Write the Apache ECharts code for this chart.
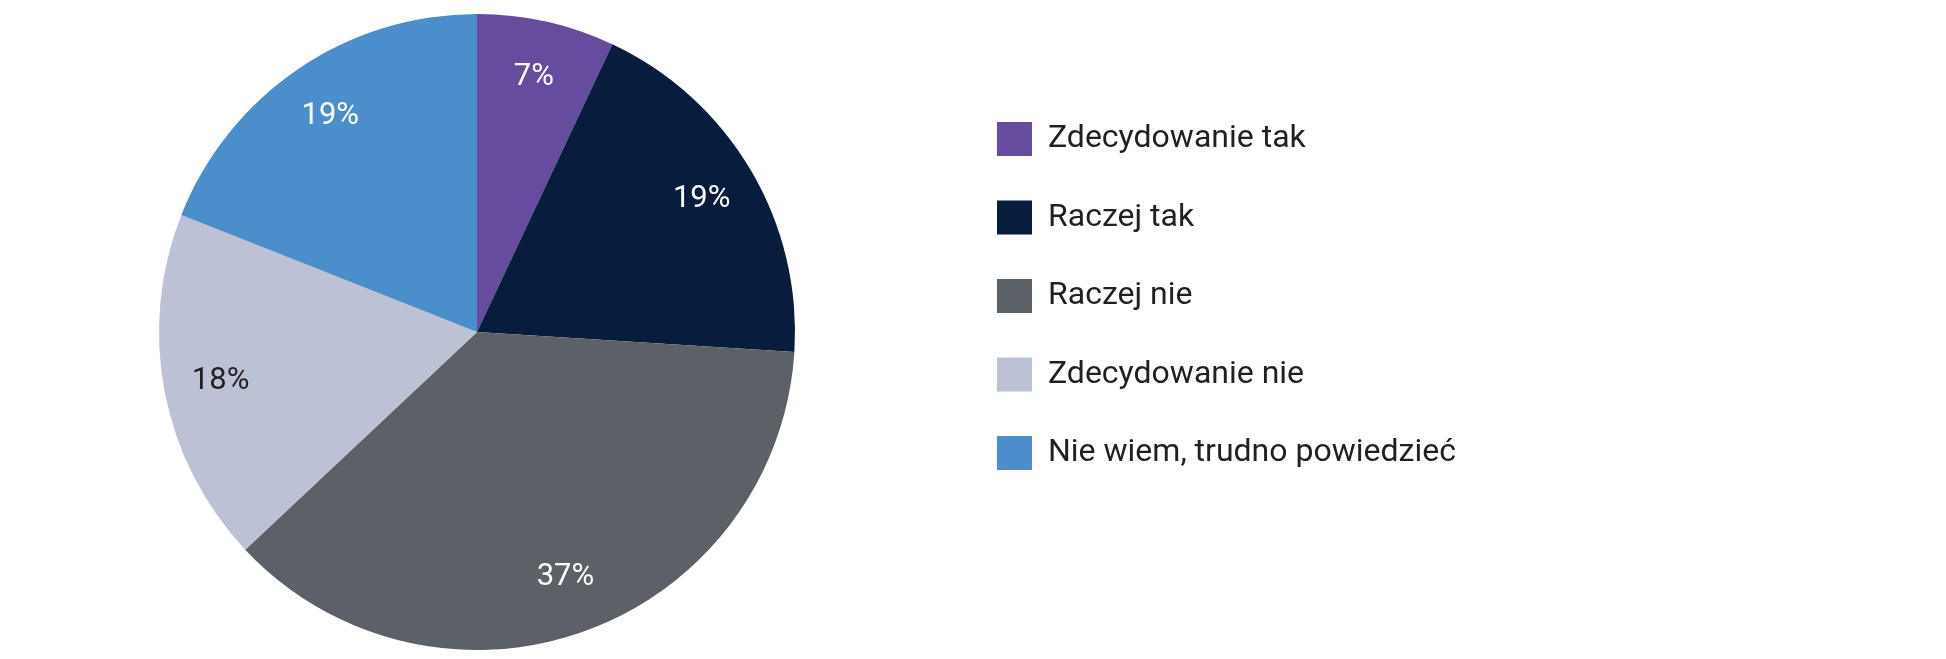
<!DOCTYPE html>
<html>
<head>
<meta charset="utf-8">
<script src="https://cdn.jsdelivr.net/npm/echarts@6/dist/echarts.min.js"></script>
<style>
html,body{margin:0;padding:0;background:#fff;}
#c{width:1946px;height:659px;}
</style>
</head>
<body>
<div id="c"></div>
<script>
const categories = ["Zdecydowanie tak", "Raczej tak", "Raczej nie", "Zdecydowanie nie", "Nie wiem, trudno powiedzieć"];
const values = [7, 19, 37, 18, 19];
const colors = ["#654c9e", "#081c3d", "#5c6168", "#bcc1d5", "#4a8fcb"];
const labelColors = ["#ffffff", "#ffffff", "#ffffff", "#231f20", "#ffffff"];

const chart = echarts.init(document.getElementById('c'), null, {renderer: 'canvas'});
const center = [477, 332];
const pieData = categories.map((n, i) => ({name: n, value: values[i], itemStyle: {color: colors[i]}}));
const labelData = categories.map((n, i) => ({
  name: n, value: values[i],
  itemStyle: {color: 'rgba(0,0,0,0)'},
  label: {color: labelColors[i]}
}));

chart.setOption({
  animation: false,
  backgroundColor: '#ffffff',
  color: colors,
  legend: {
    orient: 'vertical',
    left: 992,
    top: 117,
    itemWidth: 35,
    itemHeight: 34,
    itemGap: 44.5,
    icon: 'rect',
    selectedMode: false,
    data: categories,
    textStyle: {
      fontFamily: 'Roboto',
      fontSize: 32,
      color: '#231f20',
      padding: [0, 0, 0, 11]
    }
  },
  series: [
    {
      type: 'pie',
      center: center,
      radius: [0, 318],
      startAngle: 90,
      clockwise: true,
      silent: true,
      label: {show: false},
      labelLine: {show: false},
      itemStyle: {borderWidth: 0},
      emphasis: {disabled: true},
      data: pieData
    },
    {
      type: 'pie',
      center: center,
      radius: [212, 304],
      startAngle: 90,
      clockwise: true,
      silent: true,
      label: {
        show: true,
        position: 'inside',
        formatter: '{c}%',
        fontFamily: 'Roboto',
        fontSize: 31
      },
      labelLine: {show: false},
      itemStyle: {borderWidth: 0},
      emphasis: {disabled: true},
      data: labelData
    }
  ]
});
</script>
</body>
</html>
